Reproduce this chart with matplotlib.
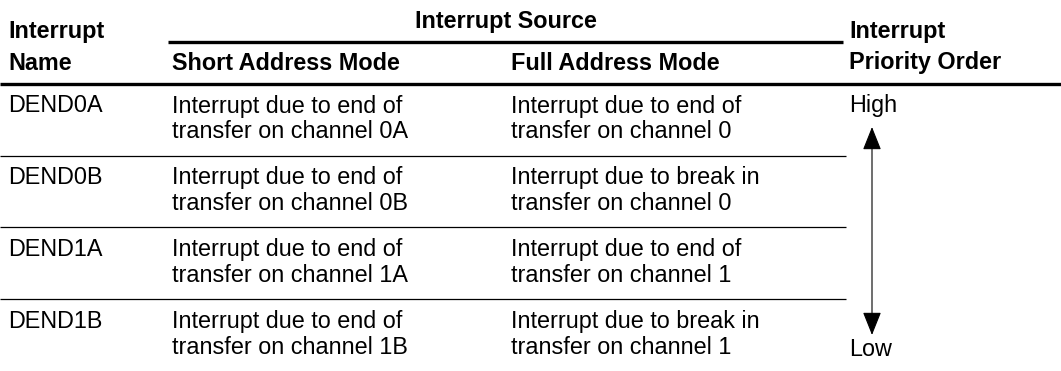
import matplotlib
matplotlib.use("Agg")
import matplotlib.pyplot as plt
from matplotlib.patches import FancyArrowPatch

W, H = 1061, 371
FONT = "Liberation Sans"
FS = 16.8

names = ["DEND0A", "DEND0B", "DEND1A", "DEND1B"]
short_mode = [
    "Interrupt due to end of\ntransfer on channel 0A",
    "Interrupt due to end of\ntransfer on channel 0B",
    "Interrupt due to end of\ntransfer on channel 1A",
    "Interrupt due to end of\ntransfer on channel 1B",
]
full_mode = [
    "Interrupt due to end of\ntransfer on channel 0",
    "Interrupt due to break in\ntransfer on channel 0",
    "Interrupt due to end of\ntransfer on channel 1",
    "Interrupt due to break in\ntransfer on channel 1",
]
priority = ("High", "Low")

# layout in pixels (y grows downward)
x_name, x_short, x_full, x_prio = 8, 172, 511, 849
x_src0, x_src1 = 168, 843
y_top = 84
row_h = 71.7
line_gap = 26

fig = plt.figure(figsize=(W / 100, H / 100), dpi=100)
ax = fig.add_axes([0, 0, 1, 1])
ax.set_xlim(0, W)
ax.set_ylim(H, 0)
ax.axis("off")

def txt(x, y, s, bold=False, ha="left"):
    ax.text(x, y, s, fontsize=FS, family=FONT, ha=ha, va="baseline",
            fontweight="bold" if bold else "normal", color="black")

# header
txt((x_src0 + x_src1) / 2, 28, "Interrupt Source", bold=True, ha="center")
txt(x_name, 38, "Interrupt", bold=True)
txt(x_name, 69.5, "Name", bold=True)
txt(x_short, 69.5, "Short Address Mode", bold=True)
txt(x_full, 69.5, "Full Address Mode", bold=True)
txt(x_prio, 38, "Interrupt", bold=True)
txt(x_prio, 69.5, "Priority Order", bold=True)

ax.plot([x_src0, x_src1], [42, 42], color="black", lw=2.4, solid_capstyle="butt")
ax.plot([0, W], [y_top, y_top], color="black", lw=2.4, solid_capstyle="butt")

# rows
for i, (n, s, f) in enumerate(zip(names, short_mode, full_mode)):
    top = y_top + i * row_h
    base = top + 28.5
    txt(x_name, base, n)
    for k, (a, b) in enumerate(zip(s.split("\n"), f.split("\n"))):
        txt(x_short, base + k * line_gap, a)
        txt(x_full, base + k * line_gap, b)
    if i > 0:
        ax.plot([0, x_src1 + 3], [top, top], color="black", lw=0.9,
                solid_capstyle="butt")

# priority arrow
txt(x_prio, 112, priority[0])
txt(x_prio, 356, priority[1])
arr = FancyArrowPatch((872, 127), (872, 335),
                      arrowstyle="<|-|>,head_length=14.5,head_width=5.8",
                      mutation_scale=1, shrinkA=0, shrinkB=0,
                      color="black", lw=0.8)
ax.add_patch(arr)

fig.savefig("out.png", dpi=100)
